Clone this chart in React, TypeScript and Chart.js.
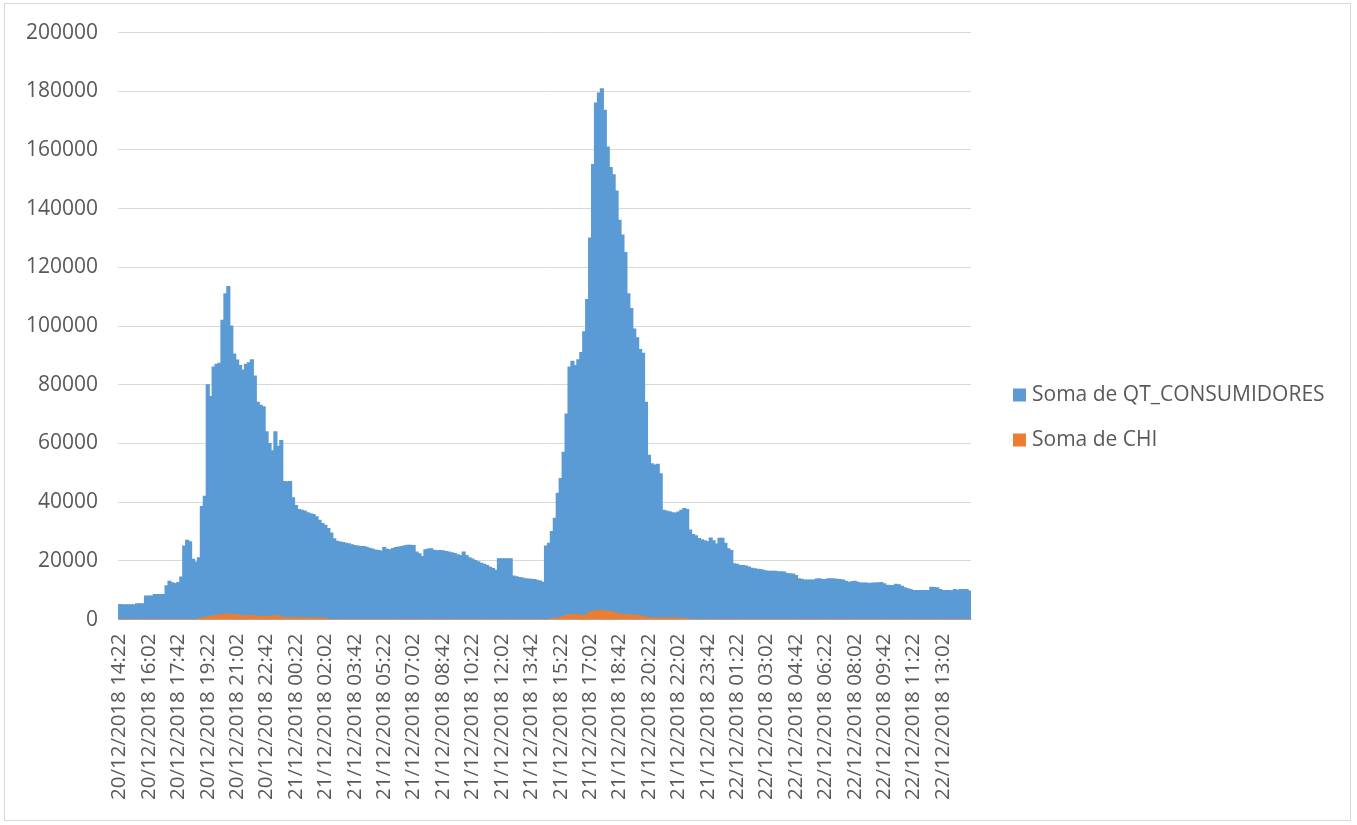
import React, { useEffect, useRef } from "react";
import { Chart, registerables } from "chart.js";

Chart.register(...registerables);

const TICK_LABELS: string[] = [
  "20/12/2018 14:22", "20/12/2018 16:02", "20/12/2018 17:42", "20/12/2018 19:22",
  "20/12/2018 21:02", "20/12/2018 22:42", "21/12/2018 00:22", "21/12/2018 02:02",
  "21/12/2018 03:42", "21/12/2018 05:22", "21/12/2018 07:02", "21/12/2018 08:42",
  "21/12/2018 10:22", "21/12/2018 12:02", "21/12/2018 13:42", "21/12/2018 15:22",
  "21/12/2018 17:02", "21/12/2018 18:42", "21/12/2018 20:22", "21/12/2018 22:02",
  "21/12/2018 23:42", "22/12/2018 01:22", "22/12/2018 03:02", "22/12/2018 04:42",
  "22/12/2018 06:22", "22/12/2018 08:02", "22/12/2018 09:42", "22/12/2018 11:22",
  "22/12/2018 13:02",
];

// one category every 10 minutes; a tick label every 10 categories
const LABEL_EVERY = 10;

const QT_CONSUMIDORES: number[] = [
  5100, 5000, 5000, 5000, 5000, 5000, 5400, 5400, 5400, 8000,
  8000, 8000, 8500, 8500, 8500, 8500, 11500, 13000, 12500, 12300,
  12600, 14500, 25000, 27000, 26500, 20500, 19600, 21000, 38500, 42000,
  80000, 76000, 86000, 87000, 87300, 102000, 111000, 113500, 100000, 90500,
  88400, 86500, 85000, 87000, 87500, 88500, 83000, 74000, 73000, 72500,
  64000, 60000, 57500, 64000, 59000, 61000, 47000, 46900, 47000, 41500,
  38800, 37500, 37200, 37000, 36400, 36000, 35800, 35000, 33800, 32700,
  32100, 31000, 29500, 27500, 26700, 26400, 26200, 26000, 25800, 25500,
  25200, 25000, 24900, 24900, 24600, 24300, 24000, 23700, 23500, 23300,
  24500, 23900, 23800, 24200, 24500, 24700, 24900, 25100, 25300, 25300,
  25200, 23000, 22400, 21500, 23800, 24000, 24100, 23600, 23400, 23500,
  23400, 23200, 23000, 22700, 22500, 22100, 21800, 23000, 21800, 21000,
  20600, 20100, 19700, 19200, 18800, 18400, 17800, 17400, 16800, 20700,
  20700, 20700, 20700, 20700, 14800, 14600, 14300, 14100, 13900, 13800,
  13700, 13600, 13400, 13100, 12700, 25000, 26000, 30000, 34500, 43000,
  48000, 57000, 70000, 86000, 88000, 86500, 88500, 91000, 98000, 109000,
  130000, 155000, 176000, 179400, 180800, 173500, 161000, 154000, 151500, 146000,
  136000, 131000, 125000, 111000, 106000, 99000, 96000, 92000, 90700, 74000,
  56000, 53100, 52600, 52900, 49700, 37200, 37000, 36700, 36400, 36300,
  36600, 37200, 37800, 37500, 30500, 29000, 28500, 27600, 27200, 26800,
  26500, 27800, 26800, 25700, 27700, 27700, 26000, 24100, 23500, 19000,
  18800, 18400, 18400, 18200, 17900, 17500, 17300, 17100, 17000, 16800,
  16500, 16400, 16400, 16400, 16300, 16300, 16200, 15700, 15600, 15500,
  15000, 13900, 13700, 13500, 13500, 13500, 13500, 13800, 13900, 13600,
  13600, 13900, 13900, 13800, 13700, 13600, 13500, 13000, 12700, 12900,
  13000, 12700, 12400, 12400, 12400, 12300, 12400, 12400, 12500, 12600,
  12200, 11700, 11600, 11600, 12000, 11800, 11300, 10800, 10500, 10200,
  9900, 9900, 9900, 9900, 9900, 9900, 11000, 10900, 10800, 10200,
  9900, 9900, 9900, 9800, 10200, 10000, 10200, 10200, 10200, 9700,
];

const CHI: number[] = [
  0, 0, 0, 0, 0, 0, 0, 0, 0, 0,
  0, 0, 0, 0, 0, 0, 0, 0, 0, 0,
  0, 0, 0, 0, 0, 0, 0, 300, 500, 700,
  900, 1100, 1400, 1400, 1500, 1700, 1900, 1800, 1600, 1600,
  1600, 1500, 1000, 1300, 1400, 1400, 1200, 1100, 1100, 1100,
  1100, 1000, 1200, 1300, 1300, 900, 700, 700, 700, 700,
  700, 700, 600, 600, 600, 600, 500, 500, 500, 500,
  400, 0, 0, 0, 0, 0, 0, 0, 0, 0,
  0, 0, 0, 0, 0, 0, 0, 0, 0, 0,
  0, 0, 0, 0, 0, 0, 0, 0, 0, 0,
  0, 0, 0, 0, 0, 0, 0, 0, 0, 0,
  0, 0, 0, 0, 0, 0, 0, 0, 0, 0,
  0, 0, 0, 0, 0, 0, 0, 0, 0, 0,
  0, 0, 0, 0, 0, 0, 0, 0, 0, 0,
  0, 0, 0, 0, 0, 0, 0, 300, 400, 400,
  800, 1100, 1400, 1600, 1600, 1600, 1600, 1500, 1400, 1800,
  2500, 2800, 2900, 3000, 3000, 2900, 2800, 2700, 2400, 2100,
  1900, 1700, 1600, 1600, 1500, 1500, 1400, 1300, 1000, 800,
  600, 600, 500, 500, 500, 500, 500, 500, 500, 500,
  500, 400, 400, 300, 0, 0, 0, 0, 0, 0,
  0, 0, 0, 0, 0, 0, 0, 0, 0, 0,
  0, 0, 0, 0, 0, 0, 0, 0, 0, 0,
  0, 0, 0, 0, 0, 0, 0, 0, 0, 0,
  0, 0, 0, 0, 0, 0, 0, 0, 0, 0,
  0, 0, 0, 0, 0, 0, 0, 0, 0, 0,
  0, 0, 0, 0, 0, 0, 0, 0, 0, 0,
  0, 0, 0, 0, 0, 0, 0, 0, 0, 0,
  0, 0, 0, 0, 0, 0, 0, 0, 0, 0,
  0, 0, 0, 0, 0, 0, 0, 0, 0, 0,
];

const SERIES_NAMES = ["Soma de QT_CONSUMIDORES", "Soma de CHI"];
const SERIES_COLORS = ["#5B9BD5", "#ED7D31"];
const Y_MIN = 0;
const Y_MAX = 200000;
const Y_STEP = 20000;

const CATEGORIES: string[] = QT_CONSUMIDORES.map((_, i) =>
  i % LABEL_EVERY === 0 ? TICK_LABELS[i / LABEL_EVERY] ?? "" : ""
);

const FONT = "'Open Sans', 'DejaVu Sans', sans-serif";
const TEXT = "#595959";
const GRID = "#d9d9d9";

// Legend drawn in the space reserved on the right of the plot
const sideLegend = {
  id: "sideLegend",
  afterDraw(chart: any) {
    const { ctx, chartArea } = chart;
    const boxX = chartArea.right + 42;
    const box = 13;
    const gap = 45;
    const firstY = chart.height / 2 - 17;
    ctx.save();
    ctx.font = `21px ${FONT}`;
    ctx.textBaseline = "middle";
    ctx.textAlign = "left";
    chart.data.datasets.forEach((ds: any, i: number) => {
      const cy = firstY + i * gap;
      ctx.fillStyle = ds.backgroundColor;
      ctx.fillRect(boxX, cy - box / 2, box, box);
      ctx.fillStyle = TEXT;
      ctx.fillText(ds.label, boxX + box + 6, cy);
    });
    ctx.restore();
  },
};

export default function App() {
  const ref = useRef<HTMLCanvasElement | null>(null);

  useEffect(() => {
    if (!ref.current) return;
    const chart = new Chart(ref.current, {
      type: "bar",
      data: {
        labels: CATEGORIES,
        datasets: [
          {
            label: SERIES_NAMES[0],
            data: QT_CONSUMIDORES,
            backgroundColor: SERIES_COLORS[0],
            borderWidth: 0,
            barPercentage: 1,
            categoryPercentage: 1,
            inflateAmount: 0.6,
            grouped: false,
            order: 1,
          },
          {
            label: SERIES_NAMES[1],
            data: CHI,
            backgroundColor: SERIES_COLORS[1],
            borderWidth: 0,
            barPercentage: 1,
            categoryPercentage: 1,
            inflateAmount: 0.6,
            grouped: false,
            order: 0,
          },
        ],
      },
      options: {
        animation: false,
        responsive: false,
        events: [],
        layout: { padding: { left: 5, right: 379, top: 5, bottom: 6 } },
        plugins: {
          tooltip: { enabled: false },
          legend: { display: false },
        },
        scales: {
          x: {
            grid: { display: false, drawTicks: false },
            border: { display: true, color: GRID, width: 1 },
            ticks: {
              autoSkip: false,
              minRotation: 90,
              maxRotation: 90,
              padding: 14,
              color: TEXT,
              font: { family: FONT, size: 20.5 },
            },
          },
          y: {
            min: Y_MIN,
            max: Y_MAX,
            grid: {
              color: GRID,
              lineWidth: 1,
              drawTicks: true,
              tickLength: 4,
              tickColor: "rgba(0,0,0,0)",
            },
            border: { display: false },
            ticks: {
              stepSize: Y_STEP,
              padding: 16,
              color: TEXT,
              font: { family: FONT, size: 21 },
              callback: (v: any) => String(v),
            },
          },
        },
      },
      plugins: [sideLegend],
    } as any);
    return () => chart.destroy();
  }, []);

  return (
    <div
      style={{
        position: "absolute",
        left: 4,
        top: 3,
        width: 1347,
        height: 818,
        border: "1px solid #d9d9d9",
        boxSizing: "border-box",
        background: "#fff",
      }}
    >
      <canvas ref={ref} width={1345} height={816} style={{ display: "block" }} />
    </div>
  );
}
